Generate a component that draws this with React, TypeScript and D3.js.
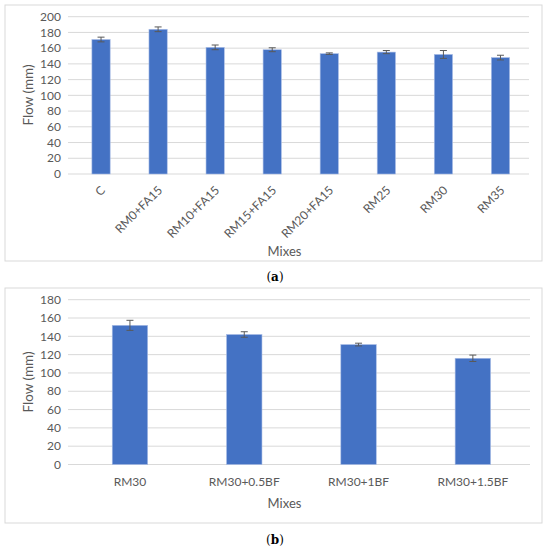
import React from "react";
import * as d3 from "d3";

const mixesA = ["C", "RM0+FA15", "RM10+FA15", "RM15+FA15", "RM20+FA15", "RM25", "RM30", "RM35"];
const flowA = [171, 184, 161, 158, 153, 155, 152, 148];
const errA = [3, 3, 3, 2.5, 1, 2, 5, 3];
const ticksA = [0, 20, 40, 60, 80, 100, 120, 140, 160, 180, 200];

const mixesB = ["RM30", "RM30+0.5BF", "RM30+1BF", "RM30+1.5BF"];
const flowB = [152, 142, 131, 116];
const errB = [5.5, 3, 1.5, 3.5];
const ticksB = [0, 20, 40, 60, 80, 100, 120, 140, 160, 180];

const BAR = "#4472C4";
const GRID = "#d9d9d9";
const TXT = "#595959";
const FONT = "Lato, 'Open Sans', sans-serif";

type PanelProps = {
  cats: string[];
  vals: number[];
  errs: number[];
  ticks: number[];
  frame: { x: number; y: number; w: number; h: number };
  y0: number;
  y1: number;
  x0: number;
  x1: number;
  padIn: number;
  rotate: boolean;
  labelY: number;
  titleY: number;
  ytitleY: number;
  caption: string;
  captionY: number;
};

function Panel(p: PanelProps) {
  const ymax = p.ticks[p.ticks.length - 1];
  const y = d3.scaleLinear().domain([0, ymax]).range([p.y0, p.y1]);
  const x = d3
    .scaleBand<string>()
    .domain(p.cats)
    .range([p.x0, p.x1])
    .paddingInner(p.padIn)
    .paddingOuter(p.padIn / 2);
  const bw = x.bandwidth();
  return (
    <g>
      <rect x={p.frame.x} y={p.frame.y} width={p.frame.w} height={p.frame.h} fill="#fff" stroke={GRID} strokeWidth={1} />
      {p.ticks.map((t) => (
        <g key={t}>
          <line x1={68} x2={p.x1} y1={y(t)} y2={y(t)} stroke={GRID} strokeWidth={1} />
          <text x={61} y={y(t)} dy="0.35em" textAnchor="end" fontSize={12} fill={TXT} fontFamily={FONT}>
            {t}
          </text>
        </g>
      ))}
      {p.cats.map((c, i) => {
        const cx = (x(c) as number) + bw / 2;
        return (
          <g key={c}>
            <rect x={x(c)} y={y(p.vals[i])} width={bw} height={y(0) - y(p.vals[i])} fill={BAR} stroke="#a9bde6" strokeWidth={0.6} />
            <line x1={cx} x2={cx} y1={y(p.vals[i] + p.errs[i])} y2={y(p.vals[i] - p.errs[i])} stroke={TXT} strokeWidth={1} />
            <line x1={cx - 3.5} x2={cx + 3.5} y1={y(p.vals[i] + p.errs[i])} y2={y(p.vals[i] + p.errs[i])} stroke={TXT} strokeWidth={1} />
            <line x1={cx - 3.5} x2={cx + 3.5} y1={y(p.vals[i] - p.errs[i])} y2={y(p.vals[i] - p.errs[i])} stroke={TXT} strokeWidth={1} />
            {p.rotate ? (
              <text
                transform={`translate(${cx + 2},${p.labelY}) rotate(-45)`}
                textAnchor="end"
                dy="0.35em"
                fontSize={12}
                fill={TXT}
                fontFamily={FONT}
              >
                {c}
              </text>
            ) : (
              <text x={cx} y={p.labelY} dy="0.35em" textAnchor="middle" fontSize={12} fill={TXT} fontFamily={FONT}>
                {c}
              </text>
            )}
          </g>
        );
      })}
      <text x={284.5} y={p.titleY} dy="0.35em" textAnchor="middle" fontSize={13} fill={TXT} fontFamily={FONT}>
        Mixes
      </text>
      <text
        transform={`translate(28,${p.ytitleY}) rotate(-90)`}
        dy="0.35em"
        textAnchor="middle"
        fontSize={13.5}
        fill={TXT}
        fontFamily={FONT}
      >
        Flow (mm)
      </text>
      <text x={275} y={p.captionY} dy="0.35em" textAnchor="middle" fontSize={12} fill="#000" fontFamily="'DejaVu Serif', serif">
        (<tspan fontWeight="bold">{p.caption}</tspan>)
      </text>
    </g>
  );
}

export default function App() {
  return (
    <svg width={550} height={550} style={{ position: "absolute", left: 0, top: 0, background: "#fff" }}>
      <Panel
        cats={mixesA}
        vals={flowA}
        errs={errA}
        ticks={ticksA}
        frame={{ x: 5, y: 5, w: 537, h: 256 }}
        y0={174}
        y1={16.7}
        x0={72.5}
        x1={529}
        padIn={0.68}
        rotate={true}
        labelY={188}
        titleY={251}
        ytitleY={95}
        caption="a"
        captionY={277}
      />
      <Panel
        cats={mixesB}
        vals={flowB}
        errs={errB}
        ticks={ticksB}
        frame={{ x: 5, y: 288, w: 537, h: 235 }}
        y0={464.5}
        y1={299.7}
        x0={72.8}
        x1={530}
        padIn={0.69}
        rotate={false}
        labelY={482}
        titleY={503}
        ytitleY={382}
        caption="b"
        captionY={540}
      />
    </svg>
  );
}
